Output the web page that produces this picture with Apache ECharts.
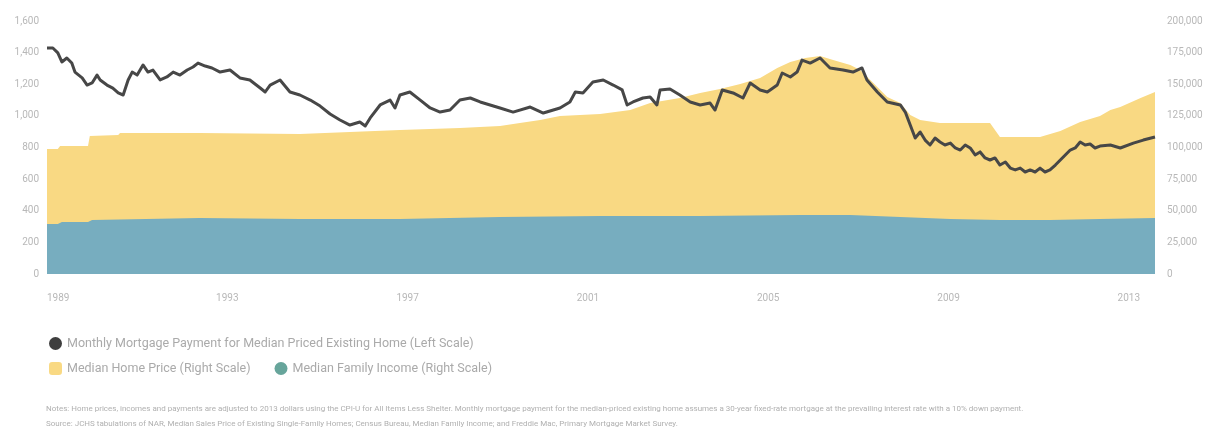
<!DOCTYPE html>
<html>
<head>
<meta charset="utf-8">
<script src="https://cdn.jsdelivr.net/npm/echarts@6/dist/echarts.min.js"></script>
<style>
  html, body { margin: 0; padding: 0; background: #ffffff; }
  #chart { width: 1209px; height: 438px; }
</style>
</head>
<body>
<div id="chart"></div>
<script>
// Series are recorded against decimal years (1989.0 = January 1989).
const START_YEAR = 1989;

const paymentYears = [1989.00,1989.13,1989.24,1989.33,1989.44,1989.55,1989.62,1989.78,1989.89,1990.00,1990.11,1990.18,1990.33,1990.46,1990.58,1990.69,1990.80,1990.89,1991.00,1991.13,1991.24,1991.35,1991.51,1991.66,1991.80,1991.95,1992.11,1992.24,1992.35,1992.51,1992.66,1992.84,1993.06,1993.28,1993.50,1993.73,1993.84,1993.95,1994.17,1994.39,1994.61,1994.84,1995.06,1995.28,1995.50,1995.72,1995.94,1996.06,1996.17,1996.39,1996.61,1996.72,1996.83,1997.05,1997.28,1997.50,1997.72,1997.94,1998.16,1998.39,1998.61,1998.83,1999.05,1999.34,1999.72,2000.01,2000.38,2000.60,2000.72,2000.89,2001.11,2001.34,2001.56,2001.76,2001.87,2002.00,2002.22,2002.38,2002.53,2002.60,2002.82,2003.04,2003.27,2003.49,2003.71,2003.82,2003.98,2004.22,2004.44,2004.60,2004.82,2004.98,2005.20,2005.31,2005.49,2005.64,2005.75,2005.93,2006.15,2006.37,2006.66,2006.88,2007.08,2007.19,2007.42,2007.64,2007.93,2008.04,2008.15,2008.26,2008.37,2008.48,2008.59,2008.70,2008.81,2008.92,2009.04,2009.15,2009.26,2009.37,2009.48,2009.59,2009.70,2009.81,2009.92,2010.03,2010.14,2010.26,2010.37,2010.48,2010.59,2010.70,2010.81,2010.92,2011.03,2011.14,2011.25,2011.37,2011.48,2011.59,2011.70,2011.81,2011.92,2012.03,2012.14,2012.25,2012.36,2012.59,2012.81,2013.10,2013.32,2013.58];
const paymentValues = [1429,1429,1398,1341,1366,1334,1277,1240,1195,1208,1258,1227,1195,1176,1145,1132,1227,1277,1258,1322,1277,1290,1227,1246,1277,1258,1290,1309,1334,1315,1303,1277,1290,1240,1227,1176,1151,1195,1227,1151,1132,1100,1062,1012,974,942,961,936,987,1069,1100,1050,1132,1151,1100,1050,1024,1037,1100,1113,1088,1069,1050,1024,1056,1018,1050,1088,1151,1145,1214,1227,1195,1164,1069,1088,1113,1119,1069,1164,1170,1132,1088,1069,1081,1037,1164,1145,1113,1208,1164,1151,1195,1271,1246,1277,1353,1334,1366,1303,1290,1277,1303,1227,1151,1088,1069,1024,942,860,898,847,816,860,835,816,828,797,784,816,797,753,772,734,721,734,689,708,670,658,670,645,658,645,670,645,658,689,721,753,784,797,835,816,822,797,809,816,797,828,847,866];

const priceYears = [1989.00,1989.24,1989.29,1989.91,1989.95,1990.58,1990.62,1992.39,1994.61,1996.83,1998.16,1999.05,1999.49,1999.94,2000.38,2001.27,2001.94,2002.38,2003.04,2003.49,2003.93,2004.38,2004.82,2005.20,2005.49,2005.82,2006.15,2006.44,2006.82,2007.04,2007.33,2007.64,2007.93,2008.15,2008.37,2008.81,2009.92,2010.14,2011.03,2011.48,2011.92,2012.36,2012.59,2012.81,2013.26,2013.58];
const priceValues = [98800,98800,101200,101200,109100,109900,111500,111500,110700,113800,115400,117000,119400,121700,124900,126500,129600,135200,139100,143100,146200,150200,154900,162800,167600,170700,172300,169200,165200,161300,151000,139900,135200,125700,121700,119400,119400,108300,108300,113000,120200,124900,129600,132000,139100,143900];

const incomeYears = [1989.00,1989.24,1989.33,1989.91,1990.00,1992.39,1994.61,1996.83,1999.05,2001.27,2003.49,2005.71,2006.82,2007.93,2009.04,2010.14,2011.25,2012.36,2013.58];
const incomeValues = [39500,39500,41100,41100,42700,44300,43500,43500,45100,45800,45800,46600,46600,45100,43500,42700,42700,43500,44300];

const xTickStep = 4;
const xSpan = 24.58;
const leftTicks = { min: 0, max: 1600, step: 200 };
const rightTicks = { min: 0, max: 200000, step: 25000 };

const names = {
  payment: 'Monthly Mortgage Payment for Median Priced Existing Home (Left Scale)',
  price: 'Median Home Price (Right Scale)',
  income: 'Median Family Income (Right Scale)'
};

const noteLines = [
  'Notes: Home prices, incomes and payments are adjusted to 2013 dollars using the CPI-U for All Items Less Shelter. Monthly mortgage payment for the median-priced existing home assumes a 30-year fixed-rate mortgage at the prevailing interest rate with a 10% down payment.',
  'Source: JCHS tabulations of NAR, Median Sales Price of Existing Single-Family Homes; Census Bureau, Median Family Income; and Freddie Mac, Primary Mortgage Market Survey.'
];

const toPairs = (years, values) => years.map((y, i) => [+(y - START_YEAR).toFixed(3), values[i]]);
const fmtNum = v => v.toLocaleString('en-US');

const COLORS = { payment: '#474747', price: '#f9d983', income: '#77adbf' };
const labelStyle = { color: '#b8b8b8', fontSize: 10, fontFamily: 'Roboto, sans-serif' };
const legendText = { color: '#aaaaaa', fontSize: 12.5, fontFamily: 'Roboto, sans-serif' };

const chart = echarts.init(document.getElementById('chart'), null, { renderer: 'canvas' });

chart.setOption({
  animation: false,
  backgroundColor: '#ffffff',
  grid: { left: 47, right: 54, top: 21, bottom: 164, containLabel: false },
  xAxis: {
    type: 'value',
    min: 0,
    max: xSpan,
    interval: xTickStep,
    axisLine: { show: false },
    axisTick: { show: false },
    splitLine: { show: false },
    axisLabel: Object.assign({}, labelStyle, {
      margin: 19,
      formatter: v => String(START_YEAR + Math.round(v)),
      alignMinLabel: 'left',
      showMaxLabel: false
    })
  },
  yAxis: [
    {
      type: 'value',
      position: 'left',
      min: leftTicks.min, max: leftTicks.max, interval: leftTicks.step,
      axisLine: { show: false }, axisTick: { show: false }, splitLine: { show: false },
      axisLabel: Object.assign({}, labelStyle, { margin: 8, formatter: fmtNum })
    },
    {
      type: 'value',
      position: 'right',
      min: rightTicks.min, max: rightTicks.max, interval: rightTicks.step,
      axisLine: { show: false }, axisTick: { show: false }, splitLine: { show: false },
      axisLabel: Object.assign({}, labelStyle, { margin: 12, formatter: fmtNum })
    }
  ],
  legend: [
    {
      left: 44, top: 332,
      icon: 'circle', itemWidth: 13, itemHeight: 13,
      textStyle: legendText,
      data: [{ name: names.payment, itemStyle: { color: '#3e3e3e' } }]
    },
    {
      left: 44, top: 357,
      itemWidth: 13, itemHeight: 13, itemGap: 24,
      textStyle: legendText,
      data: [
        { name: names.price, icon: 'roundRect' },
        { name: names.income, icon: 'circle', itemStyle: { color: '#67a59b' } }
      ]
    }
  ],
  graphic: noteLines.map((t, i) => ({
    type: 'text',
    left: 46,
    top: 405 + i * 15,
    style: { text: t, fill: '#b0b0b0', fontSize: 8, fontFamily: 'Roboto, sans-serif' }
  })),
  series: [
    {
      name: names.price,
      type: 'line',
      yAxisIndex: 1,
      data: toPairs(priceYears, priceValues),
      showSymbol: false,
      lineStyle: { width: 0 },
      itemStyle: { color: COLORS.price },
      areaStyle: { color: COLORS.price, opacity: 1 },
      z: 1
    },
    {
      name: names.income,
      type: 'line',
      yAxisIndex: 1,
      data: toPairs(incomeYears, incomeValues),
      showSymbol: false,
      lineStyle: { width: 0 },
      itemStyle: { color: COLORS.income },
      areaStyle: { color: COLORS.income, opacity: 1 },
      z: 2
    },
    {
      name: names.payment,
      type: 'line',
      yAxisIndex: 0,
      data: toPairs(paymentYears, paymentValues),
      showSymbol: false,
      lineStyle: { width: 3, color: COLORS.payment, join: 'round' },
      itemStyle: { color: COLORS.payment },
      z: 3
    }
  ]
});
</script>
</body>
</html>
